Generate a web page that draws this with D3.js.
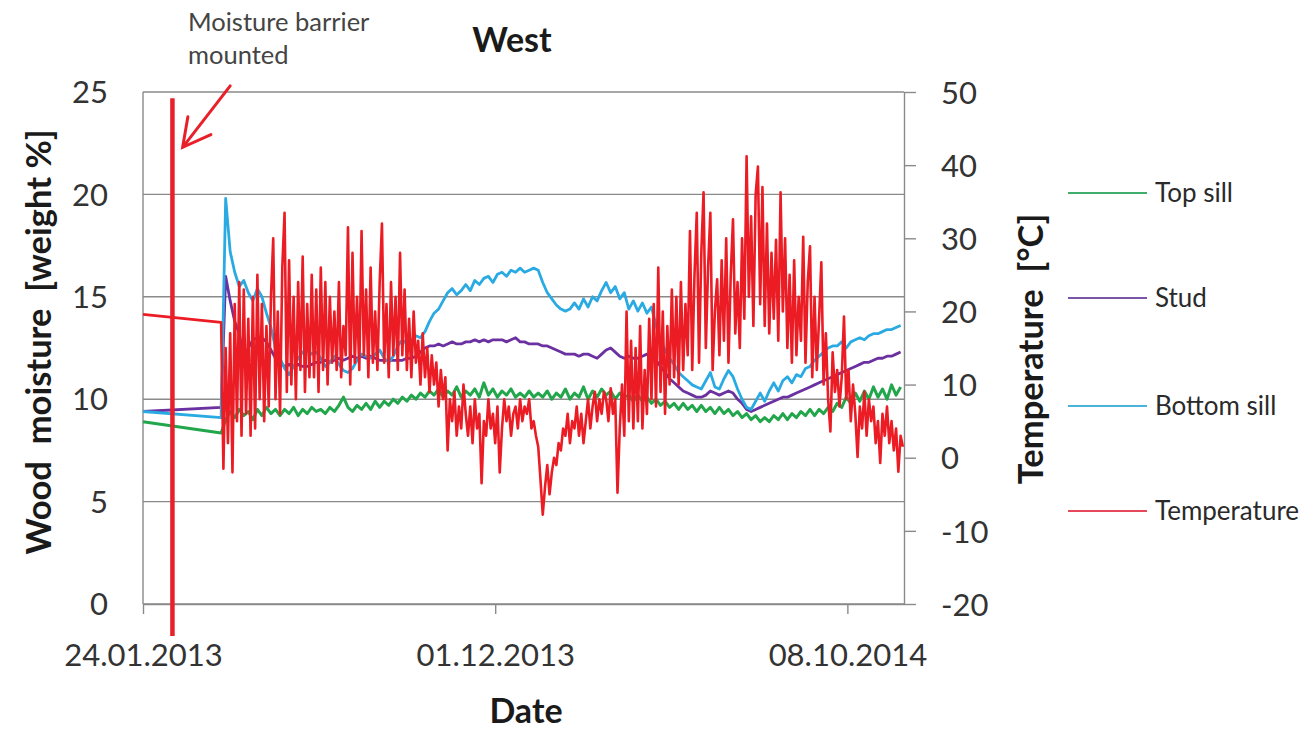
<!DOCTYPE html>
<html>
<head>
<meta charset="utf-8">
<script src="https://cdn.jsdelivr.net/npm/d3@7"></script>
<style>
  html, body { margin: 0; padding: 0; background: #fff; }
  svg { display: block; font-family: Lato, "Open Sans", sans-serif; }
  .pre { white-space: pre; }
</style>
</head>
<body>
<svg id="chart" width="1307" height="735"></svg>
<script>
// ---- Dates and axes -------------------------------------------------------
const firstReadingDate = "24.01.2013";
const seriesStartDate = "03.04.2013";
const moistureStepDays = 4;
const temperatureStepDays = 2;
const axisStartDate = "24.01.2013";
const axisEndDate = "27.11.2014";
const dateTickLabels = ["24.01.2013", "01.12.2013", "08.10.2014"];
const moistureTicks = [0, 5, 10, 15, 20, 25];
const temperatureTicks = [-20, -10, 0, 10, 20, 30, 40, 50];
const barrierDate = "19.02.2013";

// ---- Series ----------------------------------------------------------------
const seriesNames = ["Top sill", "Stud", "Bottom sill", "Temperature"];
const seriesColors = ["#22a64b", "#6c31a0", "#2aaae2", "#ec1c24"];
const legendColors = ["#3fae6a", "#7a55a8", "#4ab3dc", "#e5485a"];

// reading taken on the first date, before the logger series starts
const firstReading = [8.9, 9.4, 9.4, 19.6];

// wood moisture [weight %], every 4 days from 03.04.2013
const topSill = [
  8.35, 9.0, 9.4, 9.1, 9.5, 9.2, 9.4, 9.0, 9.5, 9.2,
  9.6, 9.3, 9.5, 9.2, 9.5, 9.3, 9.6, 9.2, 9.5, 9.3,
  9.6, 9.4, 9.5, 9.3, 9.6, 9.4, 9.7, 10.1, 9.6, 9.4,
  9.7, 9.5, 9.8, 9.5, 9.9, 9.6, 9.9, 9.7, 10.0, 9.8,
  10.1, 9.9, 10.2, 10.0, 10.3, 10.1, 10.4, 10.2, 10.5, 10.1,
  10.4, 10.2, 10.6, 10.1, 10.4, 10.2, 10.5, 10.1, 10.8, 10.2,
  10.5, 10.1, 10.4, 10.2, 10.5, 10.1, 10.3, 10.1, 10.4, 10.1,
  10.3, 10.1, 10.4, 10.0, 10.3, 10.1, 10.5, 10.0, 10.3, 10.1,
  10.6, 10.0, 10.4, 10.1, 10.5, 10.2, 10.4, 10.0, 10.3, 10.1,
  10.2, 9.9, 10.2, 9.9, 10.1, 9.8, 10.0, 9.7, 9.9, 9.6,
  9.8, 9.5, 9.8, 9.5, 9.7, 9.4, 9.7, 9.4, 9.6, 9.3,
  9.6, 9.3, 9.5, 9.2, 9.4, 9.1, 9.3, 9.0, 9.2, 8.9,
  9.1, 8.9, 9.2, 9.0, 9.3, 9.0, 9.3, 9.1, 9.4, 9.2,
  9.5, 9.2, 9.5, 9.3, 9.6, 9.4, 9.8, 9.6, 10.1, 9.8,
  10.3, 9.9, 10.4, 10.0, 10.6, 10.1, 10.5, 10.0, 10.7, 10.2,
  10.6
];

const stud = [
  9.6, 16.0, 14.8, 13.8, 13.2, 12.0, 12.5, 12.9, 13.0, 13.0,
  12.8, 12.4, 12.0, 11.8, 11.6, 11.7, 11.6, 11.7, 11.6, 11.6,
  11.7, 11.8, 11.8, 11.9, 11.8, 11.9, 12.0, 11.9, 12.0, 12.1,
  12.0, 12.1, 12.0, 12.1, 12.0, 11.9, 11.9, 11.9, 11.9, 11.9,
  11.9, 12.0, 12.0, 12.1, 12.3, 12.5, 12.6, 12.6, 12.7, 12.6,
  12.7, 12.8, 12.7, 12.7, 12.8, 12.8, 12.9, 12.8, 12.9, 12.8,
  12.9, 12.9, 12.9, 12.8, 12.9, 13.0, 12.8, 12.8, 12.7, 12.7,
  12.7, 12.6, 12.6, 12.5, 12.4, 12.3, 12.2, 12.2, 12.2, 12.1,
  12.2, 12.2, 12.1, 12.0, 12.2, 12.4, 12.5, 12.3, 12.1, 12.0,
  12.1, 12.0, 12.0, 12.1, 12.2, 12.1, 11.9, 11.6, 11.3, 11.0,
  10.8, 10.6, 10.4, 10.3, 10.2, 10.1, 10.1, 10.2, 10.4, 10.3,
  10.2, 10.3, 10.4, 10.3, 10.0, 9.8, 9.5, 9.4, 9.5, 9.6,
  9.7, 9.8, 9.9, 10.0, 10.1, 10.1, 10.2, 10.3, 10.4, 10.5,
  10.6, 10.7, 10.8, 10.9, 11.0, 11.1, 11.2, 11.3, 11.4, 11.5,
  11.6, 11.7, 11.8, 11.8, 11.9, 12.0, 12.0, 12.1, 12.1, 12.2,
  12.3
];

const bottomSill = [
  9.1, 19.8, 17.2, 16.2, 15.5, 15.8, 15.2, 14.8, 15.4, 15.0,
  14.2, 13.5, 12.5, 12.0, 11.5, 11.2, 11.6, 12.0, 12.3, 12.4,
  12.2, 12.3, 12.0, 11.6, 11.8, 12.1, 11.7, 11.4, 11.3, 11.5,
  11.9, 12.2, 12.1, 12.0, 12.2, 12.4, 12.0, 11.8, 12.1, 12.6,
  12.9, 12.7, 12.9, 13.1, 13.0, 13.3, 13.8, 14.2, 14.4, 14.8,
  15.2, 15.4, 15.1, 15.3, 15.6, 15.3, 15.8, 15.6, 15.9, 16.0,
  15.7, 16.1, 16.2, 16.0, 16.3, 16.2, 16.4, 16.2, 16.3, 16.4,
  16.3, 15.7, 15.2, 14.9, 14.6, 14.4, 14.3, 14.4, 14.7, 14.4,
  14.9, 14.5, 15.0, 14.8, 15.3, 15.7, 15.2, 15.5, 14.9, 15.2,
  14.4, 14.8, 14.3, 14.7, 14.2, 14.5, 13.6, 12.9, 12.4, 12.0,
  11.7, 11.3, 11.1, 10.9, 10.7, 10.6, 10.5, 10.9, 11.3, 10.6,
  10.5, 11.0, 11.4, 11.1, 10.5, 10.0, 9.6, 9.5, 9.9, 10.3,
  9.9, 10.4, 10.8, 10.4, 10.9, 11.1, 10.8, 11.2, 11.1, 11.5,
  11.6, 11.9, 12.1, 12.3, 12.5, 12.6, 12.6, 12.8, 12.5, 12.8,
  12.9, 13.0, 12.9, 13.1, 13.2, 13.2, 13.3, 13.4, 13.4, 13.5,
  13.6
];

// air temperature [°C], every 2 days from 03.04.2013
const temperature = [
  18.5, -1.5, 15, 2, 17, -2, 21, 5, 24, 3,
  23, 6, 19, 3, 22, 4, 25, 8, 21, 5,
  18, 7, 22, 30, 8, 20, 6, 26, 33.5, 9,
  27, 10, 22, 8, 24, 12, 27.5, 9, 21, 11,
  25, 11, 23, 9, 26, 12, 24, 10, 22, 13,
  20, 12, 24, 11, 18, 14, 31.5, 10, 28, 13,
  22, 12, 31, 14, 23, 11, 26, 13, 20, 12,
  24, 32, 13, 21, 11, 24, 14, 22, 12, 28,
  14, 23, 12, 19, 11, 20, 13, 16, 10, 17,
  11, 15, 9, 14, 10, 13, 7, 12, 8, 11,
  1, 8, 5, 9, 3, 7, 4, 10, 6, 3,
  7, 2, 8, 4, 6, -3.5, 5, 3, 8, 4,
  6, 2, 7, -2, 4, 8, 5, 7, 3, 6,
  7, 4, 8, 5, 7, 6, 8, 4, 5, 3,
  1.5, -3, -7.8, -4, -1, -5, -2, 0, -1, 2,
  1, 4, 3, 6, 2, 5, 4, 7, 3, 6,
  2, 5, 8, 4, 7, 9, 5, 8, 6, 9,
  8, 5, 9.5, 6, 8, -4.8, 4, 10, 3, 20,
  5, 16, 4, 15, 5, 18, 4, 12, 6, 19,
  8, 21, 7, 26, 9, 20, 6, 18, 10, 23,
  11, 22, 10, 24, 12, 21, 14, 31, 12, 25,
  33.5, 13, 28, 36.3, 15, 26, 33.5, 12, 20, 24.4,
  14, 27, 16, 30, 13, 25, 32.6, 17, 24, 15,
  30, 19, 41.2, 22, 33, 18, 36, 39.8, 21, 37,
  18, 32, 17, 28, 19, 29.8, 16, 36.3, 20, 30,
  15, 25, 13, 27, 14, 22, 16, 30.2, 13, 24,
  28.9, 11, 22, 12, 19, 26.7, 10, 17, 8, 3.6,
  14.4, 9, 12, 7, 11, 19.3, 8, 12, 5, 10,
  6, 0.1, 7, 4, 9, 3, 8, 5, 7, 2,
  5, -0.7, 6, 3, 7, 2, 5, 1, 4, -1.9,
  3, 1.5
];

// ---- Layout ----------------------------------------------------------------
const plot = { left: 143, right: 904, top: 92, bottom: 604 };
const parseDate = d3.utcParse("%d.%m.%Y");
const fmtDate = d3.utcFormat("%d.%m.%Y");
const DAY = 86400000;
const FONT = "Lato, 'Open Sans', sans-serif";

const x = d3.scaleUtc()
  .domain([parseDate(axisStartDate), parseDate(axisEndDate)])
  .range([plot.left, plot.right]);
const yMoist = d3.scaleLinear().domain([0, 25]).range([plot.bottom, plot.top]);
const yTemp = d3.scaleLinear().domain([-20, 50]).range([plot.bottom, plot.top]);

const svg = d3.select("#chart");
const axisGray = "#8a8a8a";
const labelColor = "#333";

// horizontal gridlines on the moisture scale
svg.append("g").selectAll("line").data(moistureTicks).join("line")
  .attr("x1", plot.left).attr("x2", plot.right)
  .attr("y1", d => yMoist(d)).attr("y2", d => yMoist(d))
  .attr("stroke", axisGray).attr("stroke-width", 1.4);

// left axis line + labels
svg.append("line")
  .attr("x1", plot.left).attr("x2", plot.left)
  .attr("y1", plot.top).attr("y2", plot.bottom)
  .attr("stroke", axisGray).attr("stroke-width", 1.4);
svg.append("g").selectAll("text").data(moistureTicks).join("text")
  .attr("x", 108).attr("y", d => yMoist(d)).attr("dy", "0.36em")
  .attr("text-anchor", "end").attr("font-size", 31).attr("fill", labelColor)
  .text(d => d);

// right (temperature) axis, labels with a plain hyphen for negatives
const rightAxis = d3.axisRight(yTemp).tickValues(temperatureTicks)
  .tickSize(12).tickSizeOuter(0).tickPadding(25).tickFormat(d => String(d));
const ra = svg.append("g").attr("transform", `translate(${plot.right},0)`).call(rightAxis);
ra.select(".domain").attr("stroke", axisGray).attr("stroke-width", 1.4);
ra.selectAll(".tick line").attr("stroke", axisGray).attr("stroke-width", 1.4);
ra.selectAll(".tick text").attr("font-size", 31).attr("fill", labelColor)
  .attr("font-family", FONT).attr("dy", "0.36em");

// bottom (date) axis
const dateTicks = dateTickLabels.map(parseDate);
const bottomAxis = d3.axisBottom(x).tickValues(dateTicks)
  .tickSize(10).tickSizeOuter(0).tickFormat(fmtDate);
const ba = svg.append("g").attr("transform", `translate(0,${plot.bottom})`).call(bottomAxis);
ba.select(".domain").attr("stroke", axisGray).attr("stroke-width", 1.4);
ba.selectAll(".tick line").attr("stroke", axisGray).attr("stroke-width", 1.4);
ba.selectAll(".tick text").attr("font-size", 31).attr("fill", labelColor)
  .attr("font-family", FONT).attr("y", 51).attr("dy", "0.36em");

// ---- Data lines ------------------------------------------------------------
const start = parseDate(seriesStartDate);
const first = parseDate(firstReadingDate);
function toPoints(values, stepDays, firstValue) {
  const pts = [{ date: first, v: firstValue }];
  values.forEach((v, i) => pts.push({ date: new Date(start.getTime() + i * stepDays * DAY), v }));
  return pts;
}

const moistureSeries = [
  { values: topSill, color: seriesColors[0], first: firstReading[0], width: 3 },
  { values: stud, color: seriesColors[1], first: firstReading[1], width: 2.8 },
  { values: bottomSill, color: seriesColors[2], first: firstReading[2], width: 2.8 }
];

const lineMoist = d3.line().x(d => x(d.date)).y(d => yMoist(d.v));
const lineTemp = d3.line().x(d => x(d.date)).y(d => yTemp(d.v));

const gLines = svg.append("g");
moistureSeries.forEach(s => {
  gLines.append("path")
    .attr("d", lineMoist(toPoints(s.values, moistureStepDays, s.first)))
    .attr("fill", "none").attr("stroke", s.color)
    .attr("stroke-width", s.width).attr("stroke-linejoin", "round");
});
gLines.append("path")
  .attr("d", lineTemp(toPoints(temperature, temperatureStepDays, firstReading[3])))
  .attr("fill", "none").attr("stroke", seriesColors[3])
  .attr("stroke-width", 2.6).attr("stroke-linejoin", "round");

// ---- Moisture barrier marker ------------------------------------------------
const red = "#e8202a";
const bx = x(parseDate(barrierDate));
svg.append("line")
  .attr("x1", bx).attr("x2", bx)
  .attr("y1", yMoist(24.7)).attr("y2", plot.bottom + 32)
  .attr("stroke", red).attr("stroke-width", 4.5);

const tail = [x(parseDate("11.04.2013")), yMoist(25.3)];
const tip = [x(parseDate("28.02.2013")), yMoist(22.3)];
const ang = Math.atan2(tail[1] - tip[1], tail[0] - tip[0]);
const headLen = 31, spread = 28 * Math.PI / 180;
const head = [ang - spread, ang + spread].map(a => [tip[0] + headLen * Math.cos(a), tip[1] + headLen * Math.sin(a)]);
svg.append("path")
  .attr("d", `M${tail[0]},${tail[1]}L${tip[0]},${tip[1]}M${head[0][0]},${head[0][1]}L${tip[0]},${tip[1]}L${head[1][0]},${head[1][1]}`)
  .attr("fill", "none").attr("stroke", red).attr("stroke-width", 3)
  .attr("stroke-linecap", "round").attr("stroke-linejoin", "miter");

svg.append("text").attr("x", 188).attr("y", 31)
  .attr("font-size", 25.5).attr("fill", "#444").text("Moisture barrier");
svg.append("text").attr("x", 188).attr("y", 64)
  .attr("font-size", 25.5).attr("fill", "#444").text("mounted");

// ---- Titles ----------------------------------------------------------------
svg.append("text").attr("x", 512).attr("y", 52).attr("text-anchor", "middle")
  .attr("font-size", 34).attr("font-weight", 700).attr("fill", "#1a1a1a").text("West");

svg.append("text").attr("x", 526).attr("y", 723).attr("text-anchor", "middle")
  .attr("font-size", 34).attr("font-weight", 700).attr("fill", "#1a1a1a").text("Date");

svg.append("text").attr("class", "pre").attr("transform", "translate(51,342) rotate(-90)")
  .attr("text-anchor", "middle").attr("font-size", 34.5).attr("font-weight", 700)
  .attr("fill", "#1a1a1a").text("Wood  moisture  [weight %]");

svg.append("text").attr("class", "pre").attr("transform", "translate(1043,349) rotate(-90)")
  .attr("text-anchor", "middle").attr("font-size", 34.5).attr("font-weight", 700)
  .attr("fill", "#1a1a1a").text("Temperature  [°C]");

// ---- Legend ----------------------------------------------------------------
const legendY = [193, 298, 406, 511];
const lg = svg.append("g");
seriesNames.forEach((name, i) => {
  lg.append("line").attr("x1", 1068).attr("x2", 1147)
    .attr("y1", legendY[i]).attr("y2", legendY[i])
    .attr("stroke", legendColors[i]).attr("stroke-width", 2);
  lg.append("text").attr("x", 1155).attr("y", legendY[i]).attr("dy", "0.36em")
    .attr("font-size", 26).attr("fill", "#2a2a2a").text(name);
});
</script>
</body>
</html>
